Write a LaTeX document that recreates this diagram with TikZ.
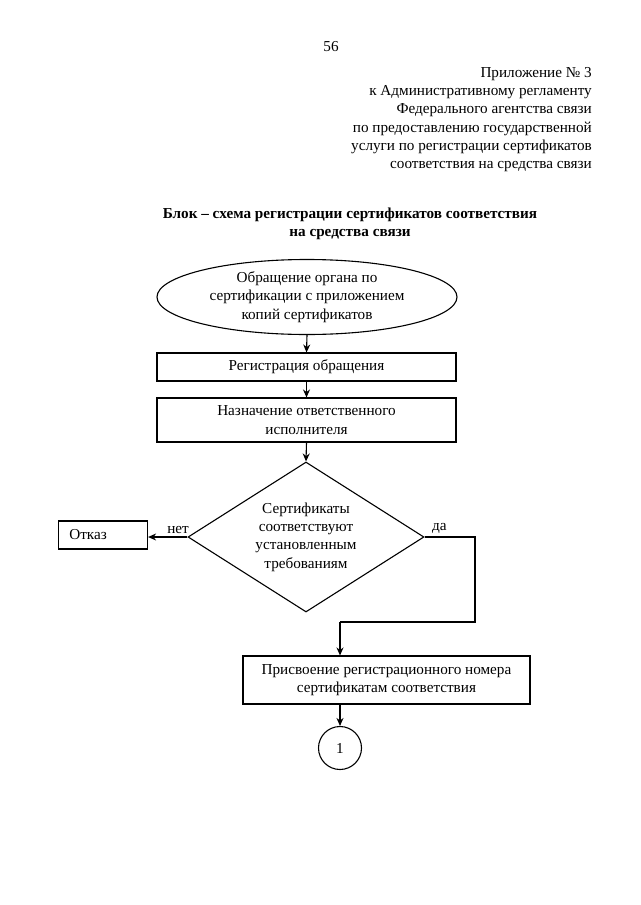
\documentclass[tikz,border=0pt]{standalone}
\usepackage{fontspec}
\setmainfont{Liberation Serif}
\usetikzlibrary{shapes.geometric,arrows.meta}
\begin{document}
\begin{tikzpicture}[x=1pt,y=-1pt,
  every node/.style={font=\fontsize{15.2}{18.3}\selectfont, inner sep=0pt},
  lineconn/.style={line width=1.1pt},
  shapeln/.style={draw, line width=1.1pt},
  arr/.style={line width=1.1pt, -{Stealth[length=8pt,width=7pt]}}
]
\useasboundingbox (0,0) rectangle (640,905);
\fill[white] (0,0) rectangle (640,905);

\node (page) at (331,47) {56};
\node[align=right, anchor=north east] (hdr) at (592,67)
  {Приложение № 3\\
   к Административному регламенту\\
   Федерального агентства связи\\
   по предоставлению государственной\\
   услуги по регистрации сертификатов\\
   соответствия на средства связи};

\node[align=center, font=\bfseries\fontsize{15.2}{18.3}\selectfont] (title) at (350,224)
  {Блок – схема регистрации сертификатов соответствия\\на средства связи};

\node[shapeln, ellipse, minimum width=300pt, minimum height=75pt, align=center] (start) at (307,297)
  {Обращение органа по\\сертификации с приложением\\копий сертификатов};

\node[shapeln, minimum width=299pt, minimum height=28pt] (reg) at (306.5,367) {Регистрация обращения};

\node[shapeln, minimum width=299pt, minimum height=44pt, align=center] (assign) at (306.5,420)
  {Назначение ответственного\\исполнителя};

\node[shapeln, diamond, minimum width=236pt, minimum height=150pt, aspect=1.57, align=center] (dec) at (306,537)
  {Сертификаты\\соответствуют\\установленным\\требованиям};

\node[shapeln, minimum width=89pt, minimum height=28pt, anchor=west] (refuse) at (58,535) {\hspace*{-30pt}Отказ};

\node[shapeln, minimum width=287pt, minimum height=48pt, align=center] (assignno) at (386.5,680)
  {Присвоение регистрационного номера\\сертификатам соответствия};

\node[shapeln, circle, minimum size=43pt] (conn) at (340,748) {1};

\coordinate (c1) at (475,537);
\coordinate (c2) at (475,622);
\coordinate (c3) at (340,622);

\draw[arr] (start.south) -- (reg.north);
\draw[arr] (reg.south) -- (assign.north);
\draw[arr] (assign.south) -- (dec.north);
\draw[arr] (dec.west) -- (dec.west -| refuse.east);
\draw[lineconn] (dec.east) -- (c1) -- (c2) -- (c3);
\draw[arr] (c3) -- (c3 |- assignno.north);
\draw[arr] (conn.north |- assignno.south) -- (conn.north);

\node[anchor=south east] (no) at (189,534) {нет};
\node[anchor=south west] (yes) at (432,534) {да};
\end{tikzpicture}
\end{document}
